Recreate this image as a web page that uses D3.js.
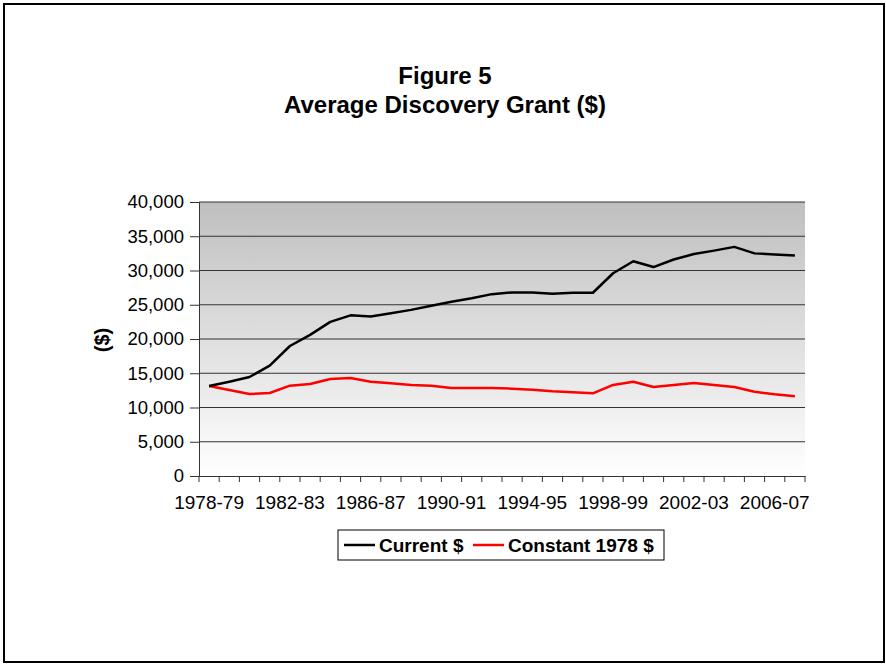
<!DOCTYPE html>
<html>
<head>
<meta charset="utf-8">
<script src="https://cdn.jsdelivr.net/npm/d3@7"></script>
<style>
  body { margin: 0; background: #fff; }
  svg text { font-family: "Liberation Sans", Arial, sans-serif; fill: #000; }
</style>
</head>
<body>
<div class="chart"></div>
<script>
// academic years on the x axis
const years = ["1978-79","1979-80","1980-81","1981-82","1982-83","1983-84","1984-85","1985-86",
  "1986-87","1987-88","1988-89","1989-90","1990-91","1991-92","1992-93","1993-94","1994-95",
  "1995-96","1996-97","1997-98","1998-99","1999-00","2000-01","2001-02","2002-03","2003-04",
  "2004-05","2005-06","2006-07","2007-08"];

// average grant, current dollars
const currentDollars = [13140,13770,14450,16110,18980,20600,22500,23450,23300,23750,24250,24850,
  25450,25950,26550,26800,26800,26600,26750,26750,29600,31350,30500,31600,32400,32900,33450,
  32500,32350,32200];

// average grant, constant 1978 dollars
const constantDollars = [13140,12560,11970,12120,13190,13430,14160,14310,13770,13530,13290,13190,
  12850,12850,12850,12750,12600,12360,12210,12070,13290,13770,12990,13290,13580,13290,12990,
  12310,11930,11640];

const yTicks = [0,5000,10000,15000,20000,25000,30000,35000,40000];
const labelEvery = 4;

var W = 886, H = 665;
var plot = {left: 199, right: 805, top: 202, bottom: 476};

var svg = d3.select(".chart").append("svg")
  .attr("width", W).attr("height", H);

// outer frame
svg.append("rect")
  .attr("x", 4).attr("y", 4).attr("width", 880).attr("height", 658)
  .attr("fill", "#fff").attr("stroke", "#000").attr("stroke-width", 2);

// title, two lines
var title = svg.append("text")
  .attr("text-anchor", "middle")
  .style("font-size", "24px").style("font-weight", "bold");
title.append("tspan").attr("x", 445).attr("y", 84).text("Figure 5");
title.append("tspan").attr("x", 445).attr("y", 113).text("Average Discovery Grant ($)");

var x = d3.scaleBand().domain(years).range([plot.left, plot.right]);
var y = d3.scaleLinear().domain([0, 40000]).range([plot.bottom, plot.top]);

// grey gradient background of plot area
var grad = svg.append("defs").append("linearGradient")
  .attr("id", "bg").attr("x1", 0).attr("y1", 0).attr("x2", 0).attr("y2", 1);
grad.append("stop").attr("offset", "0%").attr("stop-color", "#bfbfbf");
grad.append("stop").attr("offset", "100%").attr("stop-color", "#ffffff");

svg.append("rect")
  .attr("x", plot.left).attr("y", plot.top)
  .attr("width", plot.right - plot.left).attr("height", plot.bottom - plot.top)
  .attr("fill", "url(#bg)");

// gridlines
svg.append("g").selectAll("line")
  .data(yTicks.filter(d => d > 0))
  .enter().append("line")
  .attr("x1", plot.left).attr("x2", plot.right)
  .attr("y1", d => y(d)).attr("y2", d => y(d))
  .attr("stroke", "#333").attr("stroke-width", 1);

// y axis
var yAxis = svg.append("g")
  .attr("transform", "translate(" + plot.left + ",0)")
  .call(d3.axisLeft(y).tickValues(yTicks).tickFormat(d3.format(",")).tickSize(9).tickPadding(6));
yAxis.select(".domain").attr("stroke", "#333");
yAxis.selectAll(".tick line").attr("stroke", "#333");
yAxis.selectAll("text").style("font-size", "18.5px").style("font-family", "Liberation Sans, Arial, sans-serif");

// x axis: labels only every 4th year, ticks on category boundaries
var xAxis = svg.append("g")
  .attr("transform", "translate(0," + plot.bottom + ")")
  .call(d3.axisBottom(x).tickSize(0).tickPadding(20)
    .tickFormat((d, i) => i % labelEvery === 0 ? d : ""));
xAxis.select(".domain").attr("stroke", "#333");
xAxis.selectAll("text").style("font-size", "19px").style("font-family", "Liberation Sans, Arial, sans-serif");

var bounds = years.map(d => x(d)).concat([plot.right]);
svg.append("g").selectAll("line")
  .data(bounds)
  .enter().append("line")
  .attr("x1", d => d).attr("x2", d => d)
  .attr("y1", plot.bottom).attr("y2", plot.bottom + 6)
  .attr("stroke", "#333");

// y axis title
svg.append("text")
  .attr("transform", "translate(109,340) rotate(-90)")
  .attr("text-anchor", "middle")
  .style("font-size", "20px").style("font-weight", "bold")
  .text("($)");

var line = d3.line()
  .x((d, i) => x(years[i]) + x.bandwidth() / 2)
  .y(d => y(d));

svg.append("path").datum(constantDollars)
  .attr("d", line).attr("fill", "none")
  .attr("stroke", "#ff0000").attr("stroke-width", 2.5).attr("stroke-linejoin", "round");

svg.append("path").datum(currentDollars)
  .attr("d", line).attr("fill", "none")
  .attr("stroke", "#000").attr("stroke-width", 2.5).attr("stroke-linejoin", "round");

// legend
var legend = svg.append("g");
legend.append("rect")
  .attr("x", 338).attr("y", 530).attr("width", 326).attr("height", 30)
  .attr("fill", "#fff").attr("stroke", "#000").attr("stroke-width", 1);

var items = [
  {name: "Current $", color: "#000", x: 344},
  {name: "Constant 1978 $", color: "#ff0000", x: 473}
];
items.forEach(function(it) {
  legend.append("line")
    .attr("x1", it.x).attr("x2", it.x + 31)
    .attr("y1", 545).attr("y2", 545)
    .attr("stroke", it.color).attr("stroke-width", 2.5);
  legend.append("text")
    .attr("x", it.x + 35).attr("y", 552)
    .style("font-size", "19px").style("font-weight", "bold")
    .text(it.name);
});
</script>
</body>
</html>
